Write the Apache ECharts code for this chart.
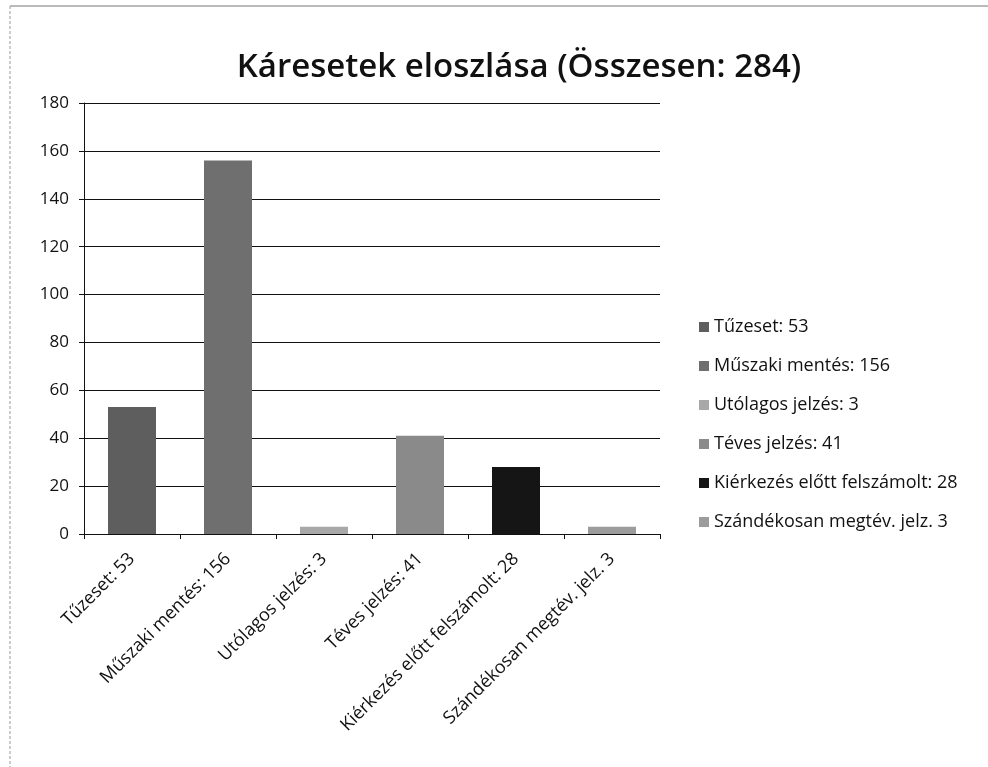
<!DOCTYPE html>
<html>
<head>
<meta charset="utf-8">
<script src="https://cdn.jsdelivr.net/npm/echarts@6/dist/echarts.min.js"></script>
<style>
  html, body { margin: 0; padding: 0; background: #fff; }
  #chart { width: 988px; height: 767px; }
</style>
</head>
<body>
<div id="chart"></div>
<script>
// Kategóriák és értékek
const categories = [
  'Tűzeset: 53',
  'Műszaki mentés: 156',
  'Utólagos jelzés: 3',
  'Téves jelzés: 41',
  'Kiérkezés előtt felszámolt: 28',
  'Szándékosan megtév. jelz. 3'
];
const values = [53, 156, 3, 41, 28, 3];
const barColors = ['#5e5e5e', '#6f6f6f', '#a8a8a8', '#8a8a8a', '#151515', '#9c9c9c'];
const yTicks = { min: 0, max: 180, interval: 20 };

const chart = echarts.init(document.getElementById('chart'));

// Minden kategória külön sorozat, hogy a jelmagyarázatban megjelenjen
const series = categories.map((name, i) => ({
  name: name,
  type: 'bar',
  stack: 'osszes',
  barWidth: '50%',
  itemStyle: { color: barColors[i] },
  data: values.map((v, j) => (j === i ? v : '-'))
}));

chart.setOption({
  backgroundColor: '#fff',
  animation: false,
  title: {
    text: 'Káresetek eloszlása (Összesen: 284)',
    left: 514,
    textAlign: 'center',
    top: 46,
    textStyle: {
      fontFamily: 'Open Sans',
      fontSize: 33,
      fontWeight: 600,
      color: '#111'
    }
  },
  legend: {
    orient: 'vertical',
    left: 694,
    top: 313,
    itemWidth: 10,
    itemHeight: 10,
    itemGap: 21,
    icon: 'rect',
    textStyle: { fontFamily: 'Open Sans', fontSize: 18, color: '#111' },
    data: categories
  },
  grid: {
    left: 84,
    right: 328,
    top: 103,
    bottom: 233,
    containLabel: false
  },
  xAxis: {
    type: 'category',
    data: categories,
    axisLine: { lineStyle: { color: '#111', width: 1 } },
    axisTick: { show: true, length: 5, lineStyle: { color: '#111' } },
    axisLabel: {
      rotate: 45,
      interval: 0,
      margin: 22,
      fontFamily: 'Open Sans',
      fontSize: 18,
      color: '#111'
    }
  },
  yAxis: {
    type: 'value',
    min: yTicks.min,
    max: yTicks.max,
    interval: yTicks.interval,
    axisLine: { show: true, lineStyle: { color: '#111' } },
    axisTick: { show: true, length: 5, lineStyle: { color: '#111' } },
    axisLabel: {
      fontFamily: 'Open Sans',
      fontSize: 17,
      color: '#111',
      margin: 15
    },
    splitLine: { show: true, lineStyle: { color: '#111', width: 1 } }
  },
  graphic: [
    { type: 'line', shape: { x1: 10, y1: 6, x2: 988, y2: 6 }, style: { stroke: '#777', lineWidth: 1 } },
    { type: 'line', shape: { x1: 10, y1: 6, x2: 10, y2: 767 }, style: { stroke: '#999', lineWidth: 1, lineDash: [3, 2] } }
  ],
  series: series
});
</script>
</body>
</html>
